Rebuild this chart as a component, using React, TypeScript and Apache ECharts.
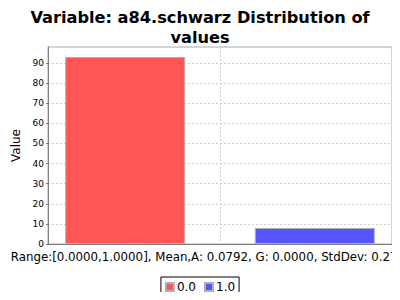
import React, { useEffect, useRef } from "react";
import * as echarts from "echarts";

const seriesNames = ["0.0", "1.0"];
const seriesValues = [93, 8];
const seriesColors = ["#FF5555", "#5555FF"];
const categories = [""];
const titleText = "Variable: a84.schwarz Distribution of\nvalues";
const xAxisLabel = "Dist: Range:[0.0000,1.0000], Mean,A: 0.0792, G: 0.0000, StdDev: 0.2714";
const yAxisLabel = "Value";

export default function App() {
  const ref = useRef<HTMLDivElement>(null);
  useEffect(() => {
    if (!ref.current) return;
    const chart = echarts.init(ref.current, null, { renderer: "svg" });
    const option: any = {
      animation: false,
      backgroundColor: "#ffffff",
      title: {
        text: titleText,
        left: "center",
        top: 2,
        textStyle: {
          fontFamily: "DejaVu Sans",
          fontWeight: "bold",
          fontSize: 16.2,
          lineHeight: 20,
          color: "#000",
        },
      },
      legend: {
        data: seriesNames,
        left: "center",
        top: 277,
        itemWidth: 8,
        itemHeight: 8,
        itemGap: 8,
        padding: [4, 4, 4, 4],
        borderColor: "#000",
        borderWidth: 1,
        borderRadius: 0,
        icon: "rect",
        textStyle: { fontFamily: "DejaVu Sans", fontSize: 12, color: "#000", padding: [0, 0, 0, -2] },
      },
      grid: { left: 48, right: 8, top: 47, height: 197, show: true, borderColor: "#aaaaaa", borderWidth: 1, backgroundColor: "#fff" },
      xAxis: [
        {
          type: "category",
          data: categories,
          axisLine: { show: true, lineStyle: { color: "#808080" } },
          axisTick: { show: false },
          axisLabel: { show: false },
          splitLine: { show: false },
        },
        {
          type: "value",
          min: 0,
          max: 2,
          interval: 1,
          position: "bottom",
          axisLine: { show: false },
          axisTick: { show: false },
          axisLabel: { show: false },
          splitLine: { show: true, lineStyle: { color: "#d0d0d0", type: [2, 2] } },
        },
      ],
      yAxis: {
        type: "value",
        min: 0,
        max: 98,
        interval: 10,
        name: yAxisLabel,
        nameLocation: "middle",
        nameGap: 24,
        nameTextStyle: { fontFamily: "DejaVu Sans", fontSize: 12, color: "#000" },
        axisLine: { show: true, lineStyle: { color: "#808080" } },
        axisTick: { show: true, length: 2, lineStyle: { color: "#808080" } },
        axisLabel: {
          fontFamily: "DejaVu Sans",
          fontSize: 9,
          color: "#000",
          margin: 4,
          showMaxLabel: false,
        },
        splitLine: { show: true, lineStyle: { color: "#d0d0d0", type: [2, 2] } },
      },
      series: seriesNames.map((name, i) => ({
        name,
        type: "bar",
        xAxisIndex: 0,
        data: [seriesValues[i]],
        barGap: "58%",
        barCategoryGap: "10%",
        itemStyle: { color: seriesColors[i], borderColor: "#b0b0b0", borderWidth: 1 },
      })),
      graphic: [
        {
          type: "text",
          x: -20,
          y: 251,
          style: {
            text: xAxisLabel,
            fontFamily: "DejaVu Sans",
            fontSize: 11.8,
            fill: "#000",
            textAlign: "left",
            textVerticalAlign: "top",
          },
        },
      ],
    };
    chart.setOption(option);
    return () => chart.dispose();
  }, []);
  return <div ref={ref} style={{ width: 400, height: 300, margin: -8 }} />;
}
